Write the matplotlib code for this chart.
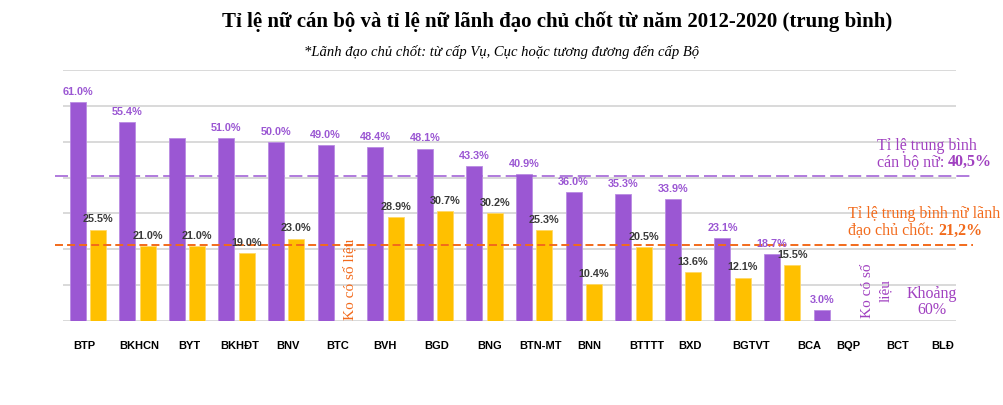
import matplotlib
matplotlib.use("Agg")
import matplotlib.pyplot as plt
import numpy as np

# ---------------- data ----------------
categories = ["BTP", "BKHCN", "BYT", "BKHĐT", "BNV", "BTC", "BVH", "BGD", "BNG",
              "BTN-MT", "BNN", "BTTTT", "BXD", "BGTVT", "BCA", "BQP", "BCT", "BLĐ"]
ty_le_can_bo_nu = [61.0, 55.4, 51.0, 51.0, 50.0, 49.0, 48.4, 48.1, 43.3,
                   40.9, 36.0, 35.3, 33.9, 23.1, 18.7, 3.0, None, None]
hien_nhan_can_bo = [True] * 16 + [False, False]
hien_nhan_can_bo[2] = False          # BYT bar has no visible label in the source
ty_le_lanh_dao_nu = [25.5, 21.0, 21.0, 19.0, 23.0, None, 28.9, 30.7, 30.2,
                     25.3, 10.4, 20.5, 13.6, 12.1, 15.5, None, None, None]
tb_can_bo_nu = 40.5
tb_lanh_dao_nu = 21.2
y_ticks = [0, 10, 20, 30, 40, 50, 60, 70]

# ---------------- layout / style ----------------
label_nudge_px = [-3, 2, 2, 3, 2, 2, 0, 2, 5, 6, 5, 13, 7, 18, 27, 17, 16, 12]
PURPLE = "#9b57d3"
YELLOW = "#ffc000"
ORANGE = "#f26a1b"
TXT_PURPLE = "#a040c0"
GRID = "#d9d9d9"
SLOT_PX = 49.6

W, H = 1004, 406
fig = plt.figure(figsize=(W / 100, H / 100), dpi=100)
ax_left, ax_right, ax_top, ax_bot = 55, 973, 71, 322
ax = fig.add_axes([ax_left / W, (H - ax_bot) / H, (ax_right - ax_left) / W, (ax_bot - ax_top) / H])

n = len(categories)
x = np.arange(n)
xmin = -0.5 - (63 - ax_left) / SLOT_PX
xmax = -0.5 + (ax_right - 63) / SLOT_PX
ax.set_xlim(xmin, xmax)
ax.set_ylim(0, 70)

# grid lines (only across the category range)
for yv in y_ticks:
    ax.plot([-0.5, n - 0.5], [yv, yv], color=GRID, lw=1.4, zorder=0, solid_capstyle="butt")

bw = 0.32
off = 0.205
sans = "Liberation Sans"
for i in range(n):
    v = ty_le_can_bo_nu[i]
    if v is not None:
        ax.bar(x[i] - off, v, width=bw, color=PURPLE, edgecolor="#b98be3", linewidth=0.6, zorder=2)
        if hien_nhan_can_bo[i]:
            ax.text(x[i] - off, v + 3.1, f"{v:.1f}%", ha="center", va="center",
                    fontsize=7.8, color=PURPLE, fontweight="bold", family=sans, zorder=4)
    w = ty_le_lanh_dao_nu[i]
    if w is not None:
        ax.bar(x[i] + off, w, width=bw, color=YELLOW, edgecolor="#ffd966", linewidth=0.6, zorder=2)
        ax.text(x[i] + off, w + 3.1, f"{w:.1f}%", ha="center", va="center",
                fontsize=7.8, color="#3a3a3a", fontweight="bold", family=sans, zorder=4)

# average lines
ax.axhline(tb_can_bo_nu, color=PURPLE, lw=1.1, dashes=(8.5, 3.3), zorder=3)
ax.axhline(tb_lanh_dao_nu, color=ORANGE, lw=1.4, dashes=(4.1, 2.1), zorder=3)

# category labels
tick_pos = [x[i] + label_nudge_px[i] / SLOT_PX for i in range(n)]
ax.set_xticks(tick_pos)
ax.set_xticklabels(categories, fontsize=8, fontweight="bold", family=sans)
ax.tick_params(axis="x", length=0, pad=14)
ax.set_yticks([])
for s in ax.spines.values():
    s.set_visible(False)

# titles
serif = "Liberation Serif"
fig.text(557 / W, 1 - 22 / H, "Tỉ lệ nữ cán bộ và tỉ lệ nữ lãnh đạo chủ chốt từ năm 2012-2020 (trung bình)",
         ha="center", va="center", fontsize=15, fontweight="bold", family=serif)
fig.text(502 / W, 1 - 52 / H, "*Lãnh đạo chủ chốt: từ cấp Vụ, Cục hoặc tương đương đến cấp Bộ",
         ha="center", va="center", fontsize=10.5, style="italic", family=serif)

# annotations
fig.text(877 / W, 1 - 146 / H, "Tỉ lệ trung bình", ha="left", va="center",
         fontsize=11.5, color=TXT_PURPLE, family=serif)
t2 = fig.text(877 / W, 1 - 162 / H, "cán bộ nữ: ", ha="left", va="center",
              fontsize=11.5, color=TXT_PURPLE, family=serif)
a1 = plt.Annotation("40,5%", xy=(1, 0.5), xycoords=t2, va="center", ha="left",
                    fontsize=11.5, color=TXT_PURPLE, fontweight="bold", family=serif)
a1.set_figure(fig)
fig.texts.append(a1)

fig.text(848 / W, 1 - 214 / H, "Tỉ lệ trung bình nữ lãnh", ha="left", va="center",
         fontsize=11.5, color=ORANGE, family=serif)
t4 = fig.text(848 / W, 1 - 231 / H, "đạo chủ chốt: ", ha="left", va="center",
              fontsize=11.5, color=ORANGE, family=serif)
a2 = plt.Annotation("21,2%", xy=(1, 0.5), xycoords=t4, va="center", ha="left",
                    fontsize=11.5, color=ORANGE, fontweight="bold", family=serif)
a2.set_figure(fig)
fig.texts.append(a2)

fig.text(350 / W, 1 - 279 / H, "Ko có số liệu", rotation=90, ha="center", va="center",
         fontsize=11, color=ORANGE, family=serif)
fig.text(877 / W, 1 - 318 / H, "Ko có số\nliệu", rotation=90, ha="center", va="bottom",
         fontsize=11, color=TXT_PURPLE, family=serif, linespacing=1.5)
fig.text(932 / W, 1 - 302 / H, "Khoảng\n60%", ha="center", va="center",
         fontsize=11.5, color=TXT_PURPLE, family=serif, linespacing=1.05)

fig.savefig("out.png", dpi=100)
